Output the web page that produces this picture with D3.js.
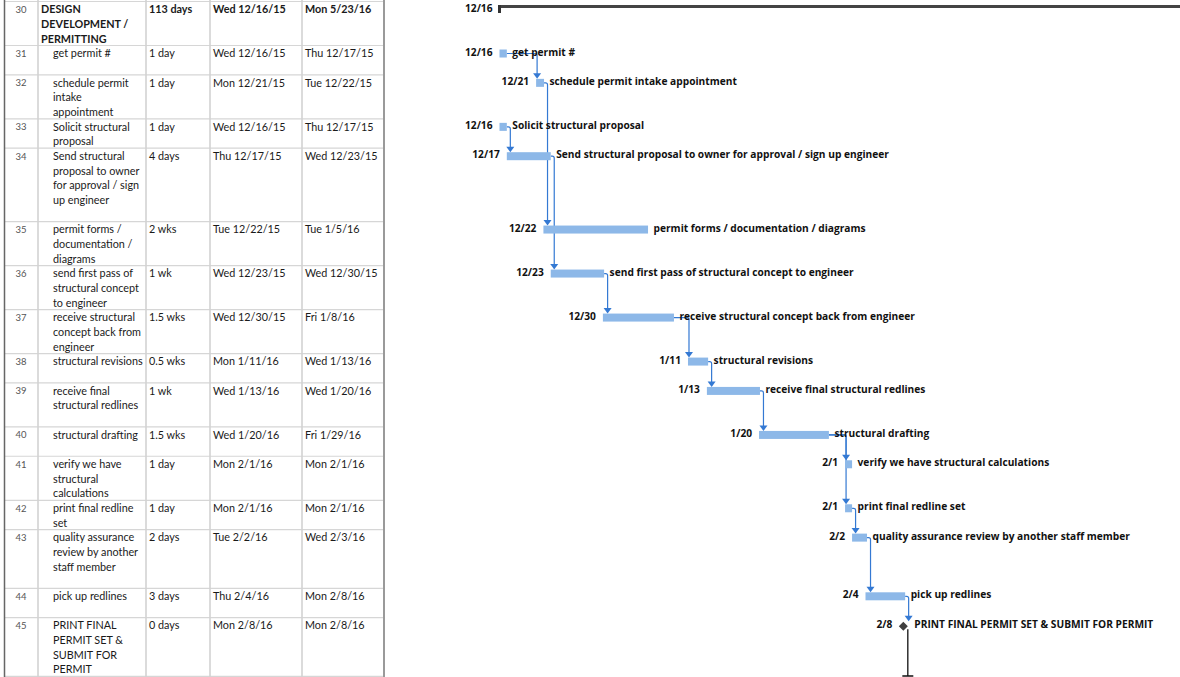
<!DOCTYPE html>
<html>
<head>
<meta charset="utf-8">
<script src="https://cdn.jsdelivr.net/npm/d3@7"></script>
<style>
  body { margin: 0; background: #fff; }
  svg { display: block; }
</style>
</head>
<body>
<div id="chart"></div>
<script>
WIDTH = 1180;
HEIGHT = 677;

// Task table
var ids = [30, 31, 32, 33, 34, 35, 36, 37, 38, 39, 40, 41, 42, 43, 44, 45];
var names = [
  "DESIGN\nDEVELOPMENT /\nPERMITTING",
  "get permit #",
  "schedule permit\nintake\nappointment",
  "Solicit structural\nproposal",
  "Send structural\nproposal to owner\nfor approval / sign\nup engineer",
  "permit forms /\ndocumentation /\ndiagrams",
  "send first pass of\nstructural concept\nto engineer",
  "receive structural\nconcept back from\nengineer",
  "structural revisions",
  "receive final\nstructural redlines",
  "structural drafting",
  "verify we have\nstructural\ncalculations",
  "print final redline\nset",
  "quality assurance\nreview by another\nstaff member",
  "pick up redlines",
  "PRINT FINAL\nPERMIT SET &\nSUBMIT FOR\nPERMIT"
];
var durations = ["113 days", "1 day", "1 day", "1 day", "4 days", "2 wks", "1 wk", "1.5 wks",
  "0.5 wks", "1 wk", "1.5 wks", "1 day", "1 day", "2 days", "3 days", "0 days"];
var startText = ["Wed 12/16/15", "Wed 12/16/15", "Mon 12/21/15", "Wed 12/16/15", "Thu 12/17/15",
  "Tue 12/22/15", "Wed 12/23/15", "Wed 12/30/15", "Mon 1/11/16", "Wed 1/13/16", "Wed 1/20/16",
  "Mon 2/1/16", "Mon 2/1/16", "Tue 2/2/16", "Thu 2/4/16", "Mon 2/8/16"];
var finishText = ["Mon 5/23/16", "Thu 12/17/15", "Tue 12/22/15", "Thu 12/17/15", "Wed 12/23/15",
  "Tue 1/5/16", "Wed 12/30/15", "Fri 1/8/16", "Wed 1/13/16", "Wed 1/20/16", "Fri 1/29/16",
  "Mon 2/1/16", "Mon 2/1/16", "Wed 2/3/16", "Mon 2/8/16", "Mon 2/8/16"];
var rowLines = [3, 2, 3, 2, 5, 3, 3, 3, 2, 3, 2, 3, 2, 4, 2, 4];

// Gantt bars
var taskType = ["summary", "task", "task", "task", "task", "task", "task", "task",
  "task", "task", "task", "task", "task", "task", "task", "milestone"];
var dateLabels = ["12/16", "12/16", "12/21", "12/16", "12/17", "12/22", "12/23", "12/30",
  "1/11", "1/13", "1/20", "2/1", "2/1", "2/2", "2/4", "2/8"];
var barStart = ["2015-12-16T00:00", "2015-12-16T00:00", "2015-12-21T00:00", "2015-12-16T00:00",
  "2015-12-17T00:00", "2015-12-22T00:00", "2015-12-23T00:00", "2015-12-30T03:00",
  "2016-01-10T18:00", "2016-01-13T08:00", "2016-01-20T11:00", "2016-02-01T05:00",
  "2016-02-01T05:00", "2016-02-02T04:00", "2016-02-04T00:00", "2016-02-09T04:00"];
var barEnd = ["2016-05-24T00:00", "2015-12-17T00:00", "2015-12-22T02:00", "2015-12-17T00:00",
  "2015-12-23T00:00", "2016-01-05T07:00", "2015-12-30T07:00", "2016-01-08T20:00",
  "2016-01-13T12:00", "2016-01-20T14:00", "2016-01-30T00:00", "2016-02-02T04:00",
  "2016-02-02T04:00", "2016-02-04T05:00", "2016-02-09T10:00", "2016-02-09T04:00"];
var links = [[31, 32], [32, 35], [33, 34], [34, 36], [36, 37], [37, 38], [38, 39],
  [39, 40], [40, 41], [40, 42], [42, 43], [43, 44], [44, 45]];

var parse = d3.isoParse;
var svg = d3.select("#chart").append("svg")
  .attr("width", WIDTH).attr("height", HEIGHT);

var cum = [0].concat(Array.from(d3.cumsum(rowLines)));
var y = d3.scaleLinear().domain([0, 46]).range([1, 1 + 46 * 14.67]);
function rowTop(i) { return y(cum[i]); }

var x = d3.scaleTime()
  .domain([parse("2015-12-16T00:00"), parse("2016-02-09T00:00")])
  .range([499.5, 499.5 + 55 * 7.32]);

var cols = [4, 38, 146, 210, 302, 384];
var tableFont = "Lato, 'Open Sans', sans-serif";
var ganttFont = "'Open Sans', 'Noto Sans', sans-serif";

// ---- table ----
var table_g = svg.append("g");

table_g.selectAll("line.row")
  .data(d3.range(ids.length + 1))
  .enter().append("line")
  .attr("x1", cols[0]).attr("x2", cols[5])
  .attr("y1", i => rowTop(i) + 0.5).attr("y2", i => rowTop(i) + 0.5)
  .attr("stroke", "#d6d6d6").attr("stroke-width", 1.2);

table_g.selectAll("line.col")
  .data(cols.slice(1, 5))
  .enter().append("line")
  .attr("x1", d => d).attr("x2", d => d)
  .attr("y1", 0).attr("y2", HEIGHT)
  .attr("stroke", "#d2d2d2").attr("stroke-width", 1.6);

table_g.append("line")
  .attr("x1", 4.5).attr("x2", 4.5).attr("y1", 0).attr("y2", HEIGHT)
  .attr("stroke", "#666").attr("stroke-width", 1.5);
table_g.append("line")
  .attr("x1", 384).attr("x2", 384).attr("y1", 0).attr("y2", HEIGHT)
  .attr("stroke", "#9a9a9a").attr("stroke-width", 2);

var rows = table_g.selectAll("g.row")
  .data(ids)
  .enter().append("g")
  .attr("transform", (d, i) => "translate(0," + rowTop(i) + ")");

rows.append("text")
  .attr("x", 21).attr("y", 12)
  .attr("text-anchor", "middle")
  .style("font", "9.5px " + tableFont)
  .style("fill", "#555")
  .text(d => d);

function cellText(sel, xPos, accessor) {
  sel.append("text")
    .attr("y", 12.3)
    .style("font-family", tableFont)
    .style("font-size", "10.8px")
    .style("font-weight", (d, i) => taskType[i] === "summary" ? 700 : 400)
    .style("fill", "#1a1a1a")
    .each(function(d, i) {
      var lines = accessor(i).split("\n");
      d3.select(this).selectAll("tspan")
        .data(lines)
        .enter().append("tspan")
        .attr("x", typeof xPos === "function" ? xPos(i) : xPos)
        .attr("dy", (l, j) => j === 0 ? 0 : 14.67)
        .text(l => l);
    });
}
cellText(rows, i => taskType[i] === "summary" ? 41 : 53, i => names[i]);
cellText(rows, 149, i => durations[i]);
cellText(rows, 213, i => startText[i]);
cellText(rows, 305, i => finishText[i]);

// ---- gantt ----
var gantt_g = svg.append("g");
var BAR_H = 8;
function barTop(i) { return rowTop(i) + 4.5; }
function barMid(i) { return rowTop(i) + 8.5; }
function idx(id) { return ids.indexOf(id); }

// summary bar
var s0 = 0;
gantt_g.append("rect")
  .attr("x", x(parse(barStart[s0])) - 1.5)
  .attr("y", rowTop(s0) + 4)
  .attr("width", x(parse(barEnd[s0])) - x(parse(barStart[s0])))
  .attr("height", 3)
  .attr("fill", "#444");
gantt_g.append("rect")
  .attr("x", x(parse(barStart[s0])) - 1.5)
  .attr("y", rowTop(s0) + 4)
  .attr("width", 3)
  .attr("height", 8)
  .attr("fill", "#333");

// links
var linkColor = "#3479d3";
var link_g = gantt_g.append("g");
links.forEach(function(l) {
  var p = idx(l[0]), s = idx(l[1]);
  var x1 = x(parse(barEnd[p])), y1 = barMid(p);
  var sx = x(parse(barStart[s]));
  var vx = sx > x1 + 4 ? sx + 1 : x1 + 3.5;
  var tipY = taskType[s] === "milestone" ? rowTop(s) + 4 : barTop(s);
  var r = 2;
  link_g.append("path")
    .attr("d", "M" + x1 + "," + y1 + "H" + (vx - r) +
      "Q" + vx + "," + y1 + " " + vx + "," + (y1 + r) + "V" + (tipY - 4))
    .attr("fill", "none")
    .attr("stroke", linkColor)
    .attr("stroke-width", 1.2);
  link_g.append("path")
    .attr("d", "M" + (vx - 4) + "," + (tipY - 5.5) + "L" + (vx + 4) + "," + (tipY - 5.5) +
      "L" + vx + "," + tipY + "Z")
    .attr("fill", linkColor);
});

// task bars
var taskIdx = d3.range(ids.length).filter(i => taskType[i] === "task");
gantt_g.selectAll("rect.bar")
  .data(taskIdx)
  .enter().append("rect")
  .attr("x", i => x(parse(barStart[i])))
  .attr("y", i => barTop(i))
  .attr("width", i => x(parse(barEnd[i])) - x(parse(barStart[i])))
  .attr("height", BAR_H)
  .attr("fill", "#8db8e8");

// milestone
var m = ids.length - 1;
var mx = x(parse(barStart[m])), my = rowTop(m) + 9;
gantt_g.append("path")
  .attr("d", "M" + mx + "," + (my - 4.5) + "L" + (mx + 4.5) + "," + my + "L" + mx + "," +
    (my + 4.5) + "L" + (mx - 4.5) + "," + my + "Z")
  .attr("fill", "#404040");
gantt_g.append("path")
  .attr("d", "M" + (mx + 4.5) + "," + (my + 3) + "V" + (HEIGHT - 1) +
    "M" + (mx - 1) + "," + (HEIGHT - 1) + "H" + (mx + 10))
  .attr("fill", "none")
  .attr("stroke", "#111")
  .attr("stroke-width", 1.3);

// date labels (left of bars)
gantt_g.selectAll("text.date")
  .data(d3.range(ids.length))
  .enter().append("text")
  .attr("x", i => x(parse(barStart[i])) - (taskType[i] === "milestone" ? 11 : 7))
  .attr("y", i => rowTop(i) + 7)
  .attr("dy", "0.35em")
  .attr("text-anchor", "end")
  .style("font", "700 10.2px " + ganttFont)
  .style("fill", "#111")
  .text(i => dateLabels[i]);

// task name labels (right of bars)
gantt_g.selectAll("text.name")
  .data(d3.range(1, ids.length))
  .enter().append("text")
  .attr("x", i => x(parse(barEnd[i])) + (taskType[i] === "milestone" ? 11 : 5.5))
  .attr("y", i => rowTop(i) + 7)
  .attr("dy", "0.35em")
  .style("font", "700 10.2px " + ganttFont)
  .style("fill", "#111")
  .text(i => names[i].replace(/\n/g, " "));
</script>
</body>
</html>
